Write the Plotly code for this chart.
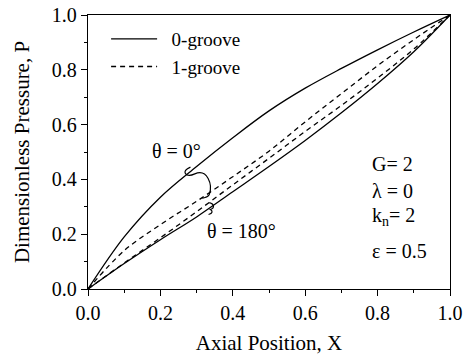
import plotly.graph_objects as go

# Axial position samples
x_pts = [0.0, 0.1, 0.2, 0.3, 0.4, 0.5, 0.6, 0.7, 0.8, 0.9, 1.0]

# 0-groove, theta = 0 deg (upper solid)
p0_top = [0.0, 0.19, 0.335, 0.447, 0.552, 0.65, 0.733, 0.805, 0.873, 0.938, 1.0]
# 0-groove, theta = 180 deg (lower solid)
p0_bot = [0.0, 0.093, 0.18, 0.263, 0.355, 0.447, 0.542, 0.643, 0.75, 0.866, 1.0]
# 1-groove, theta = 0 deg (upper dashed)
p1_top = [0.0, 0.14, 0.235, 0.32, 0.41, 0.503, 0.61, 0.713, 0.815, 0.91, 1.0]
# 1-groove, theta = 180 deg (lower dashed)
p1_bot = [0.0, 0.095, 0.187, 0.282, 0.38, 0.477, 0.575, 0.67, 0.77, 0.876, 1.0]

x_ticks = [0.0, 0.2, 0.4, 0.6, 0.8, 1.0]
y_ticks = [0.0, 0.2, 0.4, 0.6, 0.8, 1.0]
tick_labels = ["0.0", "0.2", "0.4", "0.6", "0.8", "1.0"]

FONT = "Liberation Serif"
solid = dict(color="black", width=1.3)
dashed = dict(color="black", width=1.3, dash="5px,4px")

fig = go.Figure()
fig.add_trace(go.Scatter(x=x_pts, y=p0_top, mode="lines", line=solid, line_shape="spline",
                         name="\u20020-groove", legendgroup="a"))
fig.add_trace(go.Scatter(x=x_pts, y=p0_bot, mode="lines", line=solid, line_shape="spline",
                         name="0-groove", legendgroup="a", showlegend=False))
fig.add_trace(go.Scatter(x=x_pts, y=p1_top, mode="lines", line=dashed, line_shape="spline",
                         name="\u20021-groove", legendgroup="b"))
fig.add_trace(go.Scatter(x=x_pts, y=p1_bot, mode="lines", line=dashed, line_shape="spline",
                         name="1-groove", legendgroup="b", showlegend=False))

axis_common = dict(
    showline=True, linecolor="black", linewidth=1.3, mirror=True,
    ticks="outside", ticklen=6, tickwidth=1.2, tickcolor="black",
    showgrid=False, zeroline=False, automargin=False,
    tickfont=dict(family=FONT, size=20, color="black"),
    minor=dict(ticks="outside", ticklen=3, tickwidth=1, tickcolor="black", dtick=0.1, showgrid=False),
)

fig.update_xaxes(range=[0, 1.0], tickvals=x_ticks, ticktext=tick_labels,
                 title=dict(text="Axial Position, X", font=dict(family=FONT, size=21, color="black"),
                            standoff=12),
                 **axis_common)
fig.update_yaxes(range=[0, 1.0], tickvals=y_ticks, ticktext=tick_labels,
                 title=dict(text="Dimensionless Pressure, P", font=dict(family=FONT, size=21, color="black"),
                            standoff=16),
                 **axis_common)

# bracket arcs linking theta pairs
fig.add_shape(type="path",
              path="M 0.283,0.445 C 0.255,0.43 0.27,0.405 0.295,0.42 C 0.33,0.44 0.345,0.38 0.335,0.345 "
                   "C 0.33,0.33 0.315,0.335 0.318,0.33",
              xref="x", yref="y", line=dict(color="black", width=1.2))
fig.add_shape(type="path",
              path="M 0.335,0.315 C 0.35,0.31 0.35,0.295 0.338,0.29 C 0.345,0.285 0.345,0.275 0.333,0.272",
              xref="x", yref="y", line=dict(color="black", width=1.2))

ann_font = dict(family=FONT, size=20, color="black")
fig.add_annotation(x=0.245, y=0.505, text="θ = 0°", showarrow=False, font=ann_font)
fig.add_annotation(x=0.425, y=0.21, text="θ = 180°", showarrow=False, font=ann_font)

params = [("G= 2", 0.457), ("λ = 0", 0.358), ("k<sub>n</sub>= 2", 0.266), ("ε = 0.5", 0.139)]
for txt, yy in params:
    fig.add_annotation(x=0.778, y=yy, text=txt, showarrow=False, xanchor="left", font=ann_font)

fig.update_layout(
    width=470, height=358,
    margin=dict(l=88, r=20, t=15, b=69),
    paper_bgcolor="white", plot_bgcolor="white",
    showlegend=True,
    legend=dict(x=0.05, y=0.982, xanchor="left", yanchor="top",
                bgcolor="rgba(0,0,0,0)", font=dict(family=FONT, size=19, color="black"),
                tracegroupgap=0, itemwidth=46),
)

fig.write_html("out.html")
